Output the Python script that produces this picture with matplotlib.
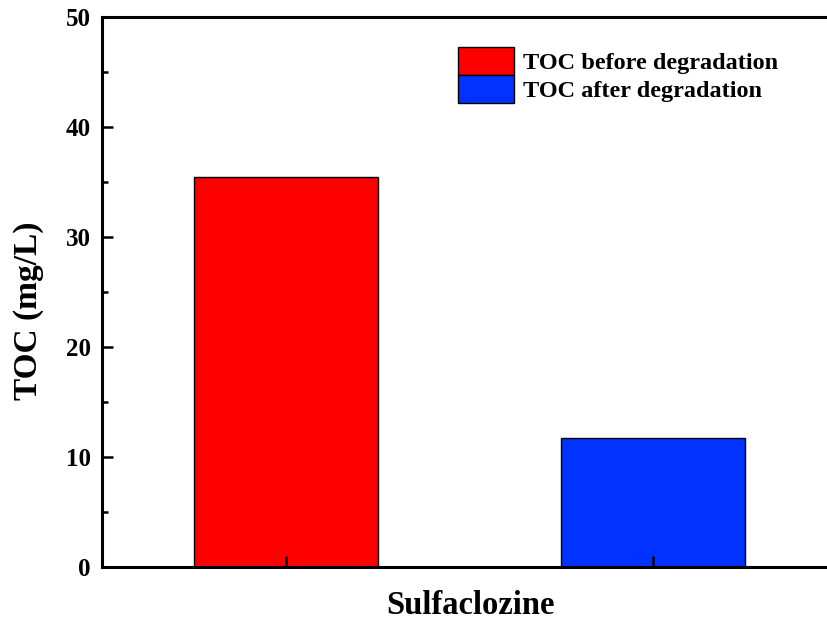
import numpy as np
import matplotlib
matplotlib.use('Agg')
import matplotlib.pyplot as plt
from matplotlib.ticker import MultipleLocator

# data
compound = 'Sulfaclozine'
series = ['TOC before degradation', 'TOC after degradation']
toc_values = [35.5, 11.7]
bar_colors = ['#ff0000', '#0033ff']

plt.rcParams['font.family'] = ['Liberation Serif', 'DejaVu Serif']
plt.rcParams['font.weight'] = 'bold'

fig = plt.figure(figsize=(8.28, 6.24), dpi=100)
# axes: left 102px, right beyond the picture (cropped), top 17px, bottom 567px
ax = fig.add_axes([102 / 828, (624 - 567) / 624, (837 - 102) / 828, 550 / 624])

x = np.arange(1, len(toc_values) + 1)
for xi, v, c, lab in zip(x, toc_values, bar_colors, series):
    ax.bar(xi, v, width=0.5, color=c, edgecolor='black', linewidth=1, label=lab)

ax.set_xlim(0.5, 2.5)
ax.set_ylim(0, 50)
ax.set_xticks(x)
ax.set_xticklabels([])
ax.yaxis.set_major_locator(MultipleLocator(10))
ax.yaxis.set_minor_locator(MultipleLocator(5))
ax.tick_params(axis='both', which='major', direction='in', length=8, width=1.8, labelsize=18)
ax.tick_params(axis='y', which='minor', direction='in', length=4.5, width=1.8)
ax.tick_params(axis='y', pad=8)
for s in ['left', 'bottom', 'top', 'right']:
    ax.spines[s].set_linewidth(2.2)

ylab = ax.set_ylabel('TOC (mg/L)', fontsize=24, fontweight='bold')
ylab.set_verticalalignment('center')
ax.yaxis.set_label_coords((29 - 102) / 735, (567 - 311) / 550)

xlab = ax.set_xlabel(compound, fontsize=23.5, fontweight='bold')
xlab.set_verticalalignment('center')
ax.xaxis.set_label_coords((470 - 102) / 735, (567 - 605) / 550)

ax.legend(loc='upper left', bbox_to_anchor=((458 - 102) / 735, 1 - 30 / 550), frameon=False,
          fontsize=17.5, handlelength=2.3, handleheight=1.38, labelspacing=0.0, handletextpad=0.38,
          borderaxespad=0, borderpad=0)

fig.savefig('out.png', dpi=100)
